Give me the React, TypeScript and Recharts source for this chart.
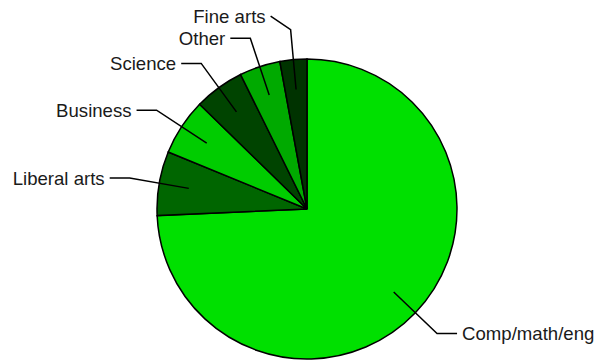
import { PieChart, Pie, Cell } from "recharts";

const MAJORS = ["Comp/math/eng", "Liberal arts", "Business", "Science", "Other", "Fine arts"];
const SHARES = [74.3, 6.9, 6.1, 5.4, 4.4, 2.9];
const COLORS = ["#00e000", "#006600", "#00cc00", "#004400", "#00aa00", "#003300"];

const CX = 307;
const CY = 209;
const R = 150;
const RADIAN = Math.PI / 180;
const GAP = 22;

const data = MAJORS.map((name, i) => ({ name, value: SHARES[i] }));

// label y positions, pushed apart when they would overlap
function labelYs() {
  const total = SHARES.reduce((a, b) => a + b, 0);
  let start = 90;
  const items = SHARES.map((v, i) => {
    const sweep = (v / total) * 360;
    const mid = start - sweep / 2;
    start -= sweep;
    const left = Math.cos(mid * RADIAN) < 0;
    const y = CY - R * 1.2 * Math.sin(mid * RADIAN);
    return { i, left, y };
  });
  const out: number[] = items.map((d) => d.y);
  [true, false].forEach((side) => {
    const group = items.filter((d) => d.left === side).sort((a, b) => b.y - a.y);
    let prev = Infinity;
    group.forEach((d) => {
      let y = d.y;
      if (y > prev - GAP) y = prev - GAP;
      out[d.i] = y;
      prev = y;
    });
  });
  return out;
}

const LABEL_Y = labelYs();

function renderLabel(props: any) {
  const { cx, cy, midAngle, outerRadius, index, name } = props;
  const cos = Math.cos(-midAngle * RADIAN);
  const sin = Math.sin(-midAngle * RADIAN);
  const x0 = cx + outerRadius * 0.8 * cos;
  const y0 = cy + outerRadius * 0.8 * sin;
  const x1 = cx + outerRadius * 1.2 * cos;
  const y1 = cy + outerRadius * 1.2 * sin;
  const dir = cos >= 0 ? 1 : -1;
  const x2 = x1 + dir * 20;
  const y2 = LABEL_Y[index];
  return (
    <g>
      <polyline
        points={`${x0},${y0} ${x1},${y1} ${x2},${y2}`}
        fill="none"
        stroke="#000"
        strokeWidth={1.5}
      />
      <text
        x={x2 + dir * 5}
        y={y2}
        textAnchor={dir > 0 ? "start" : "end"}
        dominantBaseline="central"
        fontFamily="Arial, 'Liberation Sans', sans-serif"
        fontSize={18.6}
        fill="#1a1a1a"
      >
        {name}
      </text>
    </g>
  );
}

export default function App() {
  return (
    <div style={{ position: "absolute", left: 0, top: 0, width: 606, height: 360, background: "#fff" }}>
      <PieChart width={606} height={360} margin={{ top: 0, right: 0, bottom: 0, left: 0 }}>
        <Pie
          data={data}
          dataKey="value"
          nameKey="name"
          cx={CX}
          cy={CY}
          outerRadius={R}
          startAngle={90}
          endAngle={-270}
          stroke="#000"
          strokeWidth={1.5}
          labelLine={false}
          label={renderLabel}
          isAnimationActive={false}
        >
          {data.map((d, i) => (
            <Cell key={d.name} fill={COLORS[i]} />
          ))}
        </Pie>
      </PieChart>
    </div>
  );
}
